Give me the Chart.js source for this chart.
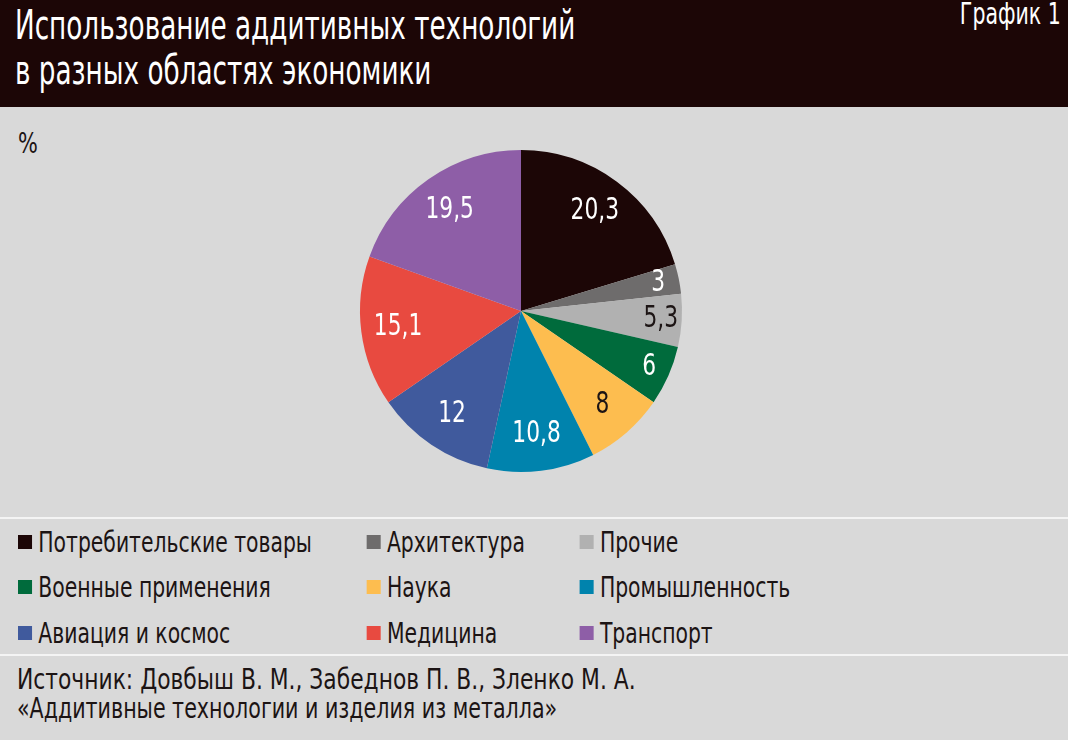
<!DOCTYPE html>
<html lang="ru">
<head>
<meta charset="utf-8">
<title>Использование аддитивных технологий</title>
<script src="https://cdn.jsdelivr.net/npm/chart.js@4/dist/chart.umd.min.js"></script>
<style>
  html, body { margin: 0; padding: 0; }
  body {
    width: 1068px; height: 740px; overflow: hidden; position: relative;
    background: #d9d9d9;
    font-family: "DejaVu Sans Condensed", "Roboto", sans-serif;
    color: #1c1414;
  }
  #header {
    position: absolute; left: 0; top: 0; width: 1068px; height: 107px;
    background: #1c0606; color: #fff;
  }
  #title {
    position: absolute; left: 15px; top: 3px; white-space: nowrap;
    font-size: 40px; line-height: 45px;
    transform: scaleX(0.73); transform-origin: left top;
  }
  #tag {
    position: absolute; right: 7px; top: -4px; white-space: nowrap;
    font-size: 30px;
    transform: scaleX(0.76); transform-origin: right top;
  }
  #unit {
    position: absolute; left: 18px; top: 126px; font-size: 29px;
    transform: scaleX(0.8); transform-origin: left top;
  }
  #wrap { position: absolute; left: 0; top: 107px; width: 1068px; height: 411px; }
  .rule { position: absolute; left: 0; width: 1068px; height: 2px; background: #f4f4f4; }
  #legend {
    position: absolute; left: 18px; top: 519px;
    display: grid; grid-template-columns: 447px 273px 380px;
    grid-auto-rows: 45.5px; font-size: 29px;
    transform: scaleX(0.78); transform-origin: left top;
  }
  .item { display: flex; align-items: center; white-space: nowrap; }
  .box { width: 18px; height: 14px; margin-right: 8px; flex: none; }
  .src {
    position: absolute; left: 17px; white-space: nowrap;
    font-size: 29px; line-height: 29px; transform-origin: left top;
  }
</style>
</head>
<body>
<div id="header">
  <div id="title">Использование аддитивных технологий<br>в разных областях экономики</div>
  <div id="tag">График 1</div>
</div>
<div id="unit">%</div>
<div id="wrap"><canvas id="chartContainer" width="1068" height="411"></canvas></div>
<div class="rule" style="top:517px"></div>
<div id="legend"></div>
<div class="rule" style="top:654px"></div>
<div class="src" style="top:665px; transform:scaleX(0.836)">Источник: Довбыш В. М., Забеднов П. В., Зленко М. А.</div>
<div class="src" style="top:694px; transform:scaleX(0.79)">«Аддитивные технологии и изделия из металла»</div>

<script>
// Data
const categories = ['Потребительские товары', 'Архитектура', 'Прочие',
  'Военные применения', 'Наука', 'Промышленность',
  'Авиация и космос', 'Медицина', 'Транспорт'];
const shares = [20.3, 3, 5.3, 6, 8, 10.8, 12, 15.1, 19.5];
const sliceColors = ['#1c0606', '#6e6c6c', '#b1b1b1', '#006b3c', '#fdbd4f',
  '#0083ad', '#405a9d', '#e84a40', '#8e5ea7'];
const labelColors = ['#fff', '#fff', '#1c1414', '#fff', '#1c1414', '#fff', '#fff', '#fff', '#fff'];

// values written inside the slices (narrowed to look condensed)
const sliceLabels = {
  id: 'sliceLabels',
  afterDatasetsDraw(chart) {
    const ctx = chart.ctx;
    const meta = chart.getDatasetMeta(0);
    meta.data.forEach((arc, i) => {
      const p = arc.getProps(['x', 'y', 'startAngle', 'endAngle', 'outerRadius']);
      const mid = (p.startAngle + p.endAngle) / 2;
      const r = p.outerRadius * (shares[i] < 7 ? 0.87 : 0.77);
      ctx.save();
      ctx.translate(p.x + Math.cos(mid) * r, p.y + Math.sin(mid) * r);
      ctx.scale(0.78, 1);
      ctx.font = '31px "DejaVu Sans Condensed", sans-serif';
      ctx.textAlign = 'center';
      ctx.textBaseline = 'middle';
      ctx.fillStyle = labelColors[i];
      ctx.fillText(String(shares[i]).replace('.', ','), 0, 0);
      ctx.restore();
    });
  }
};

let chartContainer = document.getElementById('chartContainer').getContext('2d');
let chart = new Chart(chartContainer, {
  type: 'pie',
  data: {
    labels: categories,
    datasets: [{
      data: shares,
      backgroundColor: sliceColors,
      borderWidth: 0
    }]
  },
  options: {
    responsive: false,
    animation: false,
    layout: { padding: { top: 43, bottom: 46, left: 0, right: 26 } },
    plugins: {
      legend: { display: false },
      tooltip: { enabled: false }
    }
  },
  plugins: [sliceLabels]
});

// legend in three columns, built from the chart data
const legend = document.getElementById('legend');
categories.forEach((name, i) => {
  const item = document.createElement('div');
  item.className = 'item';
  item.innerHTML = '<span class="box" style="background:' + sliceColors[i] + '"></span>' + name;
  legend.appendChild(item);
});
</script>
</body>
</html>
